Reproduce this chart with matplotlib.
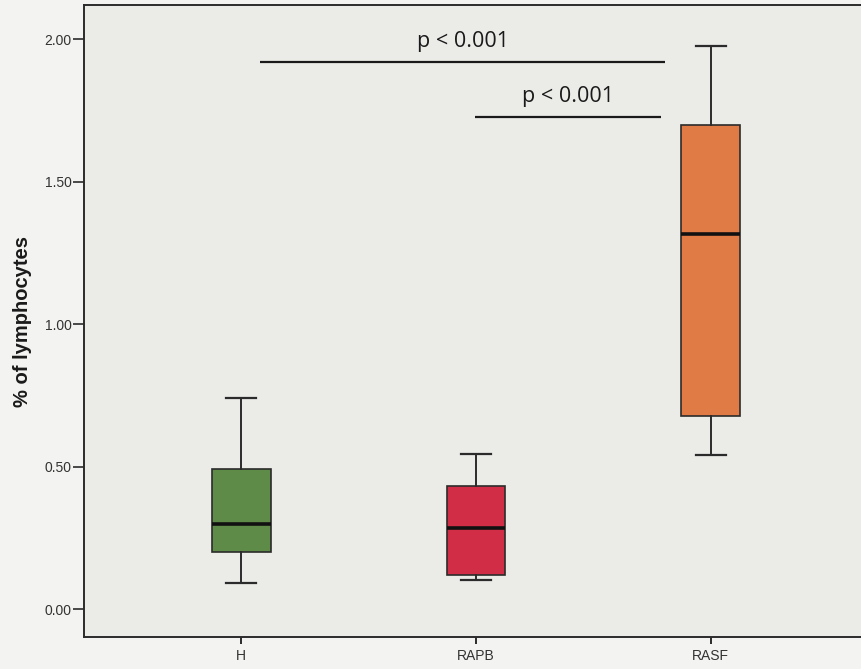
import matplotlib
matplotlib.use("Agg")
import matplotlib.pyplot as plt

# Group summaries (% of lymphocytes)
groups = ["H", "RAPB", "RASF"]
whisker_low = [0.093, 0.104, 0.542]
q1 = [0.200, 0.122, 0.680]
median = [0.301, 0.284, 1.316]
q3 = [0.492, 0.433, 1.698]
whisker_high = [0.741, 0.546, 1.977]
box_colors = ["#5f8b49", "#d12d47", "#e07b46"]

y_ticks = [0.0, 0.5, 1.0, 1.5, 2.0]
y_tick_labels = ["0.00", "0.50", "1.00", "1.50", "2.00"]

# Pairwise comparisons: (bar start, bar end, bar height, label)
comparisons = [
    (1.079, 2.806, 1.92, "p < 0.001"),
    (1.994, 2.789, 1.726, "p < 0.001"),
]

fig = plt.figure(figsize=(8.62, 6.69), dpi=100, facecolor="#f3f3f1")
ax = fig.add_axes([84 / 862, 1 - 637 / 669, (868 - 84) / 862, (637 - 5) / 669])
ax.set_facecolor("#ebebe8")

stats = []
for i, g in enumerate(groups):
    stats.append(dict(label=g, whislo=whisker_low[i], q1=q1[i], med=median[i],
                      q3=q3[i], whishi=whisker_high[i], fliers=[]))

positions = list(range(1, len(groups) + 1))
bp = ax.bxp(stats, positions=positions, widths=0.25, capwidths=0.128,
            patch_artist=True, showfliers=False,
            boxprops=dict(edgecolor="#2b2b2b", linewidth=1.2),
            whiskerprops=dict(color="#2b2b2b", linewidth=1.4),
            capprops=dict(color="#2b2b2b", linewidth=1.6),
            medianprops=dict(color="#111111", linewidth=2.6))
for patch, c in zip(bp["boxes"], box_colors):
    patch.set_facecolor(c)

for x0, x1, y, label in comparisons:
    ax.plot([x0, x1], [y, y], color="#1a1a1a", linewidth=1.6, solid_capstyle="butt")
    ax.text((x0 + x1) / 2, y + 0.035, label, ha="center", va="bottom",
            fontsize=15.5, family="Open Sans", color="#1a1a1a")

ax.set_xlim(0.33, 3.67)
ax.set_ylim(-0.097, 2.12)
ax.set_yticks(y_ticks)
ax.set_yticklabels(y_tick_labels, family="Liberation Sans", fontsize=10, color="#333333")
ax.set_xticks(positions)
ax.set_xticklabels(groups, family="Liberation Sans", fontsize=10, color="#333333")
ax.tick_params(axis="y", direction="out", length=8, width=1.2, color="#2b2b2b", pad=1)
ax.tick_params(axis="x", direction="out", length=5, width=1.4, color="#2b2b2b", pad=4)

ax.set_ylabel("% of lymphocytes", family="Liberation Sans", fontsize=14.5,
              fontweight="bold", color="#1a1a1a")
ax.yaxis.set_label_coords(-0.066, 0.5)

for side in ["left", "bottom", "top"]:
    ax.spines[side].set_color("#2b2b2b")
    ax.spines[side].set_linewidth(1.4)
ax.spines["right"].set_visible(False)

fig.savefig("out.png", dpi=100, facecolor=fig.get_facecolor())
